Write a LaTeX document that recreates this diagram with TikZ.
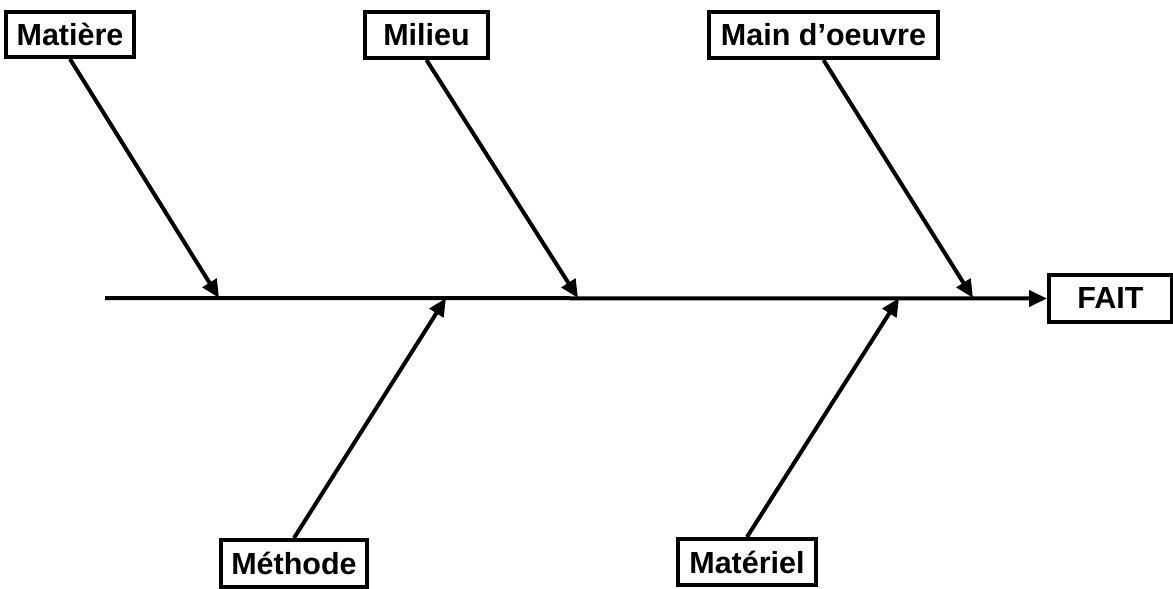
\documentclass[tikz,border=0pt]{standalone}
\usepackage{fontspec}
\setmainfont{Liberation Sans}
\usetikzlibrary{arrows.meta}
\begin{document}
\begin{tikzpicture}[x=1pt,y=-1pt,
  cause/.style={draw=black,line width=4pt,fill=white,inner sep=0pt,
    font=\fontsize{30.5}{32}\selectfont\bfseries},
  bone/.style={line width=4pt,-{Triangle[length=18pt,width=16pt]}},
  spine/.style={line width=4pt,-{Triangle[length=18pt,width=16pt]}}]
\useasboundingbox (0,0) rectangle (1173,589);

% causes above the spine
\node[cause,minimum width=128pt,minimum height=45pt] (matiere) at (70,34.5) {Matière};
\node[cause,minimum width=123pt,minimum height=46pt] (milieu) at (426.5,35) {Milieu};
\node[cause,minimum width=229pt,minimum height=46pt] (main) at (823.5,35) {Main d’oeuvre};
% causes below the spine
\node[cause,minimum width=146pt,minimum height=47pt] (methode) at (294,563.5) {Méthode};
\node[cause,minimum width=138pt,minimum height=46pt] (materiel) at (747,562) {Matériel};
% effect
\node[cause,minimum width=123pt,minimum height=47pt] (fait) at (1110.5,298.5) {FAIT};

% points where the bones meet the spine
\coordinate (tail) at (105,298);
\coordinate (t1) at (219,298);
\coordinate (t2) at (578,298);
\coordinate (t3) at (973,298);
\coordinate (b1) at (446,298);
\coordinate (b2) at (899,298);

\draw[spine] (tail) -- (fait.west);
\draw[bone] (matiere.south) -- (t1);
\draw[bone] (milieu.south) -- (t2);
\draw[bone] (main.south) -- (t3);
\draw[bone] (methode.north) -- (b1);
\draw[bone] (materiel.north) -- (b2);
\end{tikzpicture}
\end{document}
